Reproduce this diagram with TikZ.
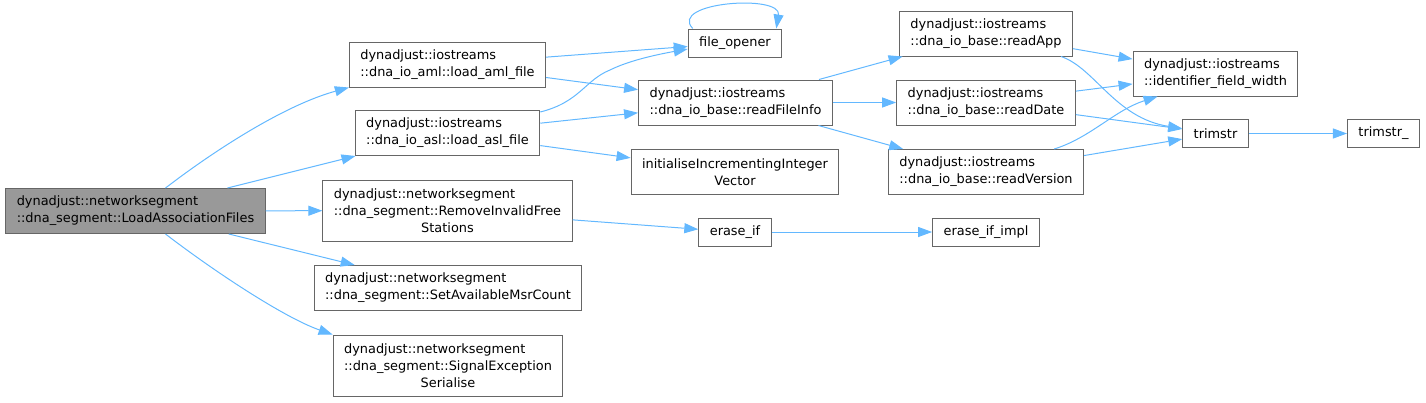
\documentclass[tikz,border=0pt]{standalone}
\usepackage{fontspec}
\setmainfont{DejaVu Sans}
\usepackage{calc}
\usepackage{tikz}
\usetikzlibrary{arrows.meta}
\definecolor{azulLlamada}{HTML}{63B8FF}
\definecolor{grisBorde}{HTML}{666666}
\definecolor{grisRaiz}{HTML}{999999}
\newcommand{\lineaFinal}[2]{\makebox[\widthof{#1}]{#2}}

\begin{document}
\begin{tikzpicture}[x=1pt, y=-1pt,
        fn/.style={draw=grisBorde, fill=white, line width=1pt, align=left,
            inner xsep=11pt, inner ysep=2pt, minimum height=28pt,
            font=\fontsize{12.9}{17}\selectfont},
        fndos/.style={fn, minimum height=45pt},
        fntres/.style={fn, minimum height=61pt},
        call/.style={-{Triangle[length=14pt, width=10pt]}, draw=azulLlamada, line width=1pt}
    ]
        \useasboundingbox (0,0) rectangle (1426,402);

        \node[fndos, fill=grisRaiz] (main) at (135.5,211) {dynadjust::networksegment\\::dna\_segment::LoadAssociationFiles};
        \node[fndos] (aml) at (447.5,64.5) {dynadjust::iostreams\\::dna\_io\_aml::load\_aml\_file};
        \node[fndos] (asl) at (447.5,133) {dynadjust::iostreams\\::dna\_io\_asl::load\_asl\_file};
        \node[fntres] (rmfree) at (447.5,210.5) {dynadjust::networksegment\\::dna\_segment::RemoveInvalidFree\\\lineaFinal{::dna\_segment::RemoveInvalidFree}{Stations}};
        \node[fndos] (setmsr) at (448,288) {dynadjust::networksegment\\::dna\_segment::SetAvailableMsrCount};
        \node[fntres] (sigex) at (448,365.5) {dynadjust::networksegment\\::dna\_segment::SignalException\\\lineaFinal{::dna\_segment::SignalException}{Serialise}};

        \node[fn] (fopen) at (735,43) {file\_opener};
        \node[fndos] (rfinfo) at (735.5,102.5) {dynadjust::iostreams\\::dna\_io\_base::readFileInfo};
        \node[fndos, align=center] (initv) at (735,172) {initialiseIncrementingInteger\\Vector};
        \node[fn] (erif) at (735,232) {erase\_if};

        \node[fndos] (rapp) at (986,33.5) {dynadjust::iostreams\\::dna\_io\_base::readApp};
        \node[fndos] (rdate) at (986,102.5) {dynadjust::iostreams\\::dna\_io\_base::readDate};
        \node[fndos] (rver) at (986,172) {dynadjust::iostreams\\::dna\_io\_base::readVersion};
        \node[fn] (erimpl) at (986,232) {erase\_if\_impl};

        \node[fndos] (idfw) at (1215.5,73.5) {dynadjust::iostreams\\::identifier\_field\_width};
        \node[fn] (trim) at (1215.5,133.5) {trimstr};
        \node[fn] (trimu) at (1383.5,133.5) {trimstr\_};

        % llamadas desde LoadAssociationFiles
        \draw[call] ([xshift=30pt]main.north) .. controls (215,150) and (285,105) .. (aml.south west);
        \draw[call] (main) -- (asl);
        \draw[call] (main) -- (rmfree);
        \draw[call] (main) -- (setmsr);
        \draw[call] ([xshift=30pt]main.south) .. controls (215,272) and (285,318) .. (sigex.north west);

        % segundo nivel
        \draw[call] (aml) -- (fopen);
        \draw[call] (aml) -- (rfinfo);
        \draw[call] ([yshift=-2pt]asl.north east) .. controls (580,102) and (585,80) .. (610,70)
            .. controls (630,60) and (660,54) .. ([yshift=-6pt]fopen.west);
        \draw[call] (asl) -- (rfinfo);
        \draw[call] (asl) -- (initv);
        \draw[call] (rmfree) -- (erif);
        \draw[call] ([xshift=5pt]fopen.north west) .. controls (668,2) and (782,-6) .. ([xshift=-6pt]fopen.north east);

        % tercer nivel
        \draw[call] (rfinfo) -- (rapp);
        \draw[call] (rfinfo) -- (rdate);
        \draw[call] (rfinfo) -- (rver);
        \draw[call] (erif) -- (erimpl);

        % cuarto nivel
        \draw[call] (rapp) -- (idfw);
        \draw[call] ([xshift=-12pt]rapp.south east) .. controls (1095,68) and (1115,118) .. ([yshift=5pt]trim.west);
        \draw[call] (rdate) -- (idfw);
        \draw[call] (rdate) -- (trim);
        \draw[call] ([xshift=-30pt]rver.north east) .. controls (1090,138) and (1115,110) .. ([xshift=25pt]idfw.south west);
        \draw[call] (rver) -- (trim);
        \draw[call] (trim) -- (trimu);
    \end{tikzpicture}
\end{document}
